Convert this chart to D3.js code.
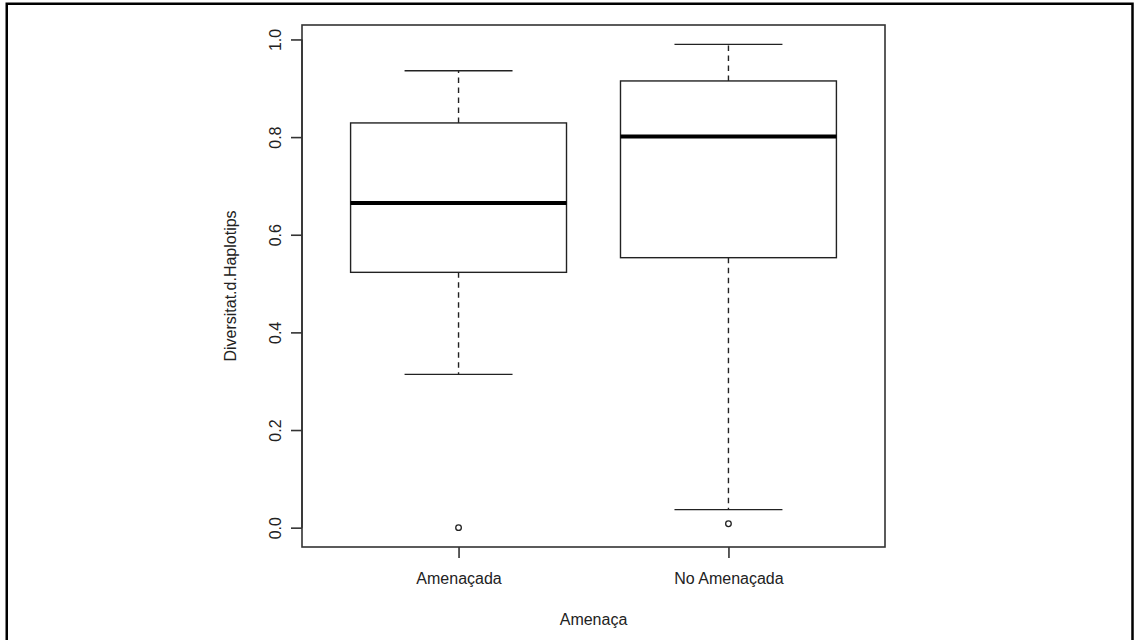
<!DOCTYPE html>
<html>
<head>
<meta charset="utf-8">
<script src="https://cdn.jsdelivr.net/npm/d3@7"></script>
<style>
  html, body { margin: 0; padding: 0; background: #fff; }
  svg { display: block; }
</style>
</head>
<body>
<div id="chart"></div>
<script>
// values
const groups       = ["Amenaçada", "No Amenaçada"];
const lowWhisker   = [0.314, 0.037];
const q1           = [0.523, 0.553];
const medians      = [0.665, 0.801];
const q3           = [0.829, 0.915];
const highWhisker  = [0.936, 0.990];
const outlierGroup = [0, 1];
const outlierValue = [0.000, 0.008];
const yTicks       = [0, 0.2, 0.4, 0.6, 0.8, 1.0];

const W = 1134, H = 640;
const plot = { l: 302, r: 885, t: 25, b: 547 };
const ink = "#222";
const font = "'Liberation Sans', Arial, sans-serif";

const svg = d3.select("#chart")
  .append("svg")
  .attr("width", W)
  .attr("height", H);

// outer frame (left, top, right edges only)
svg.append("path")
  .attr("d", `M6.75,${H} V3.75 H1132.5 V${H}`)
  .attr("fill", "none")
  .attr("stroke", "#000")
  .attr("stroke-width", 2.5);

// R style: 4% extension of the data range
const allVals = lowWhisker.concat(highWhisker, outlierValue);
const yMin = d3.min(allVals), yMax = d3.max(allVals);
const yPad = (yMax - yMin) * 0.04;

const y = d3.scaleLinear()
  .domain([yMin - yPad, yMax + yPad])
  .range([plot.b, plot.t]);

const x = d3.scaleLinear()
  .domain([0.5 - 0.08, groups.length + 0.5 + 0.08])
  .range([plot.l, plot.r]);

const halfBox = 0.4;
const halfCap = halfBox * 0.5;

const g = svg.append("g");

groups.forEach((name, i) => {
  const cx = x(i + 1);

  // whiskers (dashed)
  g.append("line")
    .attr("x1", cx).attr("x2", cx)
    .attr("y1", y(q3[i])).attr("y2", y(highWhisker[i]))
    .attr("stroke", ink).attr("stroke-width", 1.4)
    .attr("stroke-dasharray", "5.5,4.5");

  g.append("line")
    .attr("x1", cx).attr("x2", cx)
    .attr("y1", y(q1[i])).attr("y2", y(lowWhisker[i]))
    .attr("stroke", ink).attr("stroke-width", 1.4)
    .attr("stroke-dasharray", "5.5,4.5");

  // staples
  [lowWhisker[i], highWhisker[i]].forEach(v => {
    g.append("line")
      .attr("x1", x(i + 1 - halfCap)).attr("x2", x(i + 1 + halfCap))
      .attr("y1", y(v)).attr("y2", y(v))
      .attr("stroke", ink).attr("stroke-width", 1.4);
  });

  // box
  g.append("rect")
    .attr("x", x(i + 1 - halfBox))
    .attr("y", y(q3[i]))
    .attr("width", x(i + 1 + halfBox) - x(i + 1 - halfBox))
    .attr("height", y(q1[i]) - y(q3[i]))
    .attr("fill", "#fff")
    .attr("stroke", ink)
    .attr("stroke-width", 1.4);

  // median
  g.append("line")
    .attr("x1", x(i + 1 - halfBox)).attr("x2", x(i + 1 + halfBox))
    .attr("y1", y(medians[i])).attr("y2", y(medians[i]))
    .attr("stroke", "#000").attr("stroke-width", 4);
});

g.selectAll("circle.out")
  .data(outlierValue)
  .join("circle")
  .attr("class", "out")
  .attr("cx", (d, i) => x(outlierGroup[i] + 1))
  .attr("cy", d => y(d))
  .attr("r", 2.8)
  .attr("fill", "none")
  .attr("stroke", ink)
  .attr("stroke-width", 1.3);

// plot frame
svg.append("rect")
  .attr("x", plot.l)
  .attr("y", plot.t)
  .attr("width", plot.r - plot.l)
  .attr("height", plot.b - plot.t)
  .attr("fill", "none")
  .attr("stroke", "#333")
  .attr("stroke-width", 1.6);

// y axis
const yAxis = svg.append("g")
  .attr("transform", `translate(${plot.l},0)`)
  .call(d3.axisLeft(y).tickValues(yTicks).tickSize(11).tickSizeOuter(0)
    .tickFormat(d3.format(".1f")));

yAxis.select(".domain")
  .attr("d", `M0,${y(yTicks[0])}V${y(yTicks[yTicks.length - 1])}`)
  .attr("stroke", "#333").attr("stroke-width", 1.6);
yAxis.selectAll(".tick line").attr("stroke", "#333").attr("stroke-width", 1.6);
yAxis.selectAll(".tick text")
  .attr("x", 0).attr("y", 0).attr("dy", null)
  .attr("transform", "translate(-21,0) rotate(-90)")
  .attr("text-anchor", "middle")
  .attr("font-family", font)
  .attr("font-size", 16)
  .attr("fill", ink);

// x axis
const xAxis = svg.append("g")
  .attr("transform", `translate(0,${plot.b})`)
  .call(d3.axisBottom(x).tickValues(groups.map((d, i) => i + 1)).tickSize(11)
    .tickSizeOuter(0).tickFormat((d, i) => groups[i]));

xAxis.select(".domain").remove();
xAxis.selectAll(".tick line").attr("stroke", "#333").attr("stroke-width", 1.6);
xAxis.selectAll(".tick text")
  .attr("y", 37).attr("dy", null)
  .attr("font-family", font)
  .attr("font-size", 16)
  .attr("fill", ink);

// axis titles
svg.append("text")
  .attr("x", (plot.l + plot.r) / 2)
  .attr("y", 625)
  .attr("text-anchor", "middle")
  .attr("font-family", font)
  .attr("font-size", 16)
  .attr("fill", ink)
  .text("Amenaça");

svg.append("text")
  .attr("transform", `translate(236,${(plot.t + plot.b) / 2}) rotate(-90)`)
  .attr("text-anchor", "middle")
  .attr("font-family", font)
  .attr("font-size", 16)
  .attr("fill", ink)
  .text("Diversitat.d.Haplotips");
</script>
</body>
</html>
